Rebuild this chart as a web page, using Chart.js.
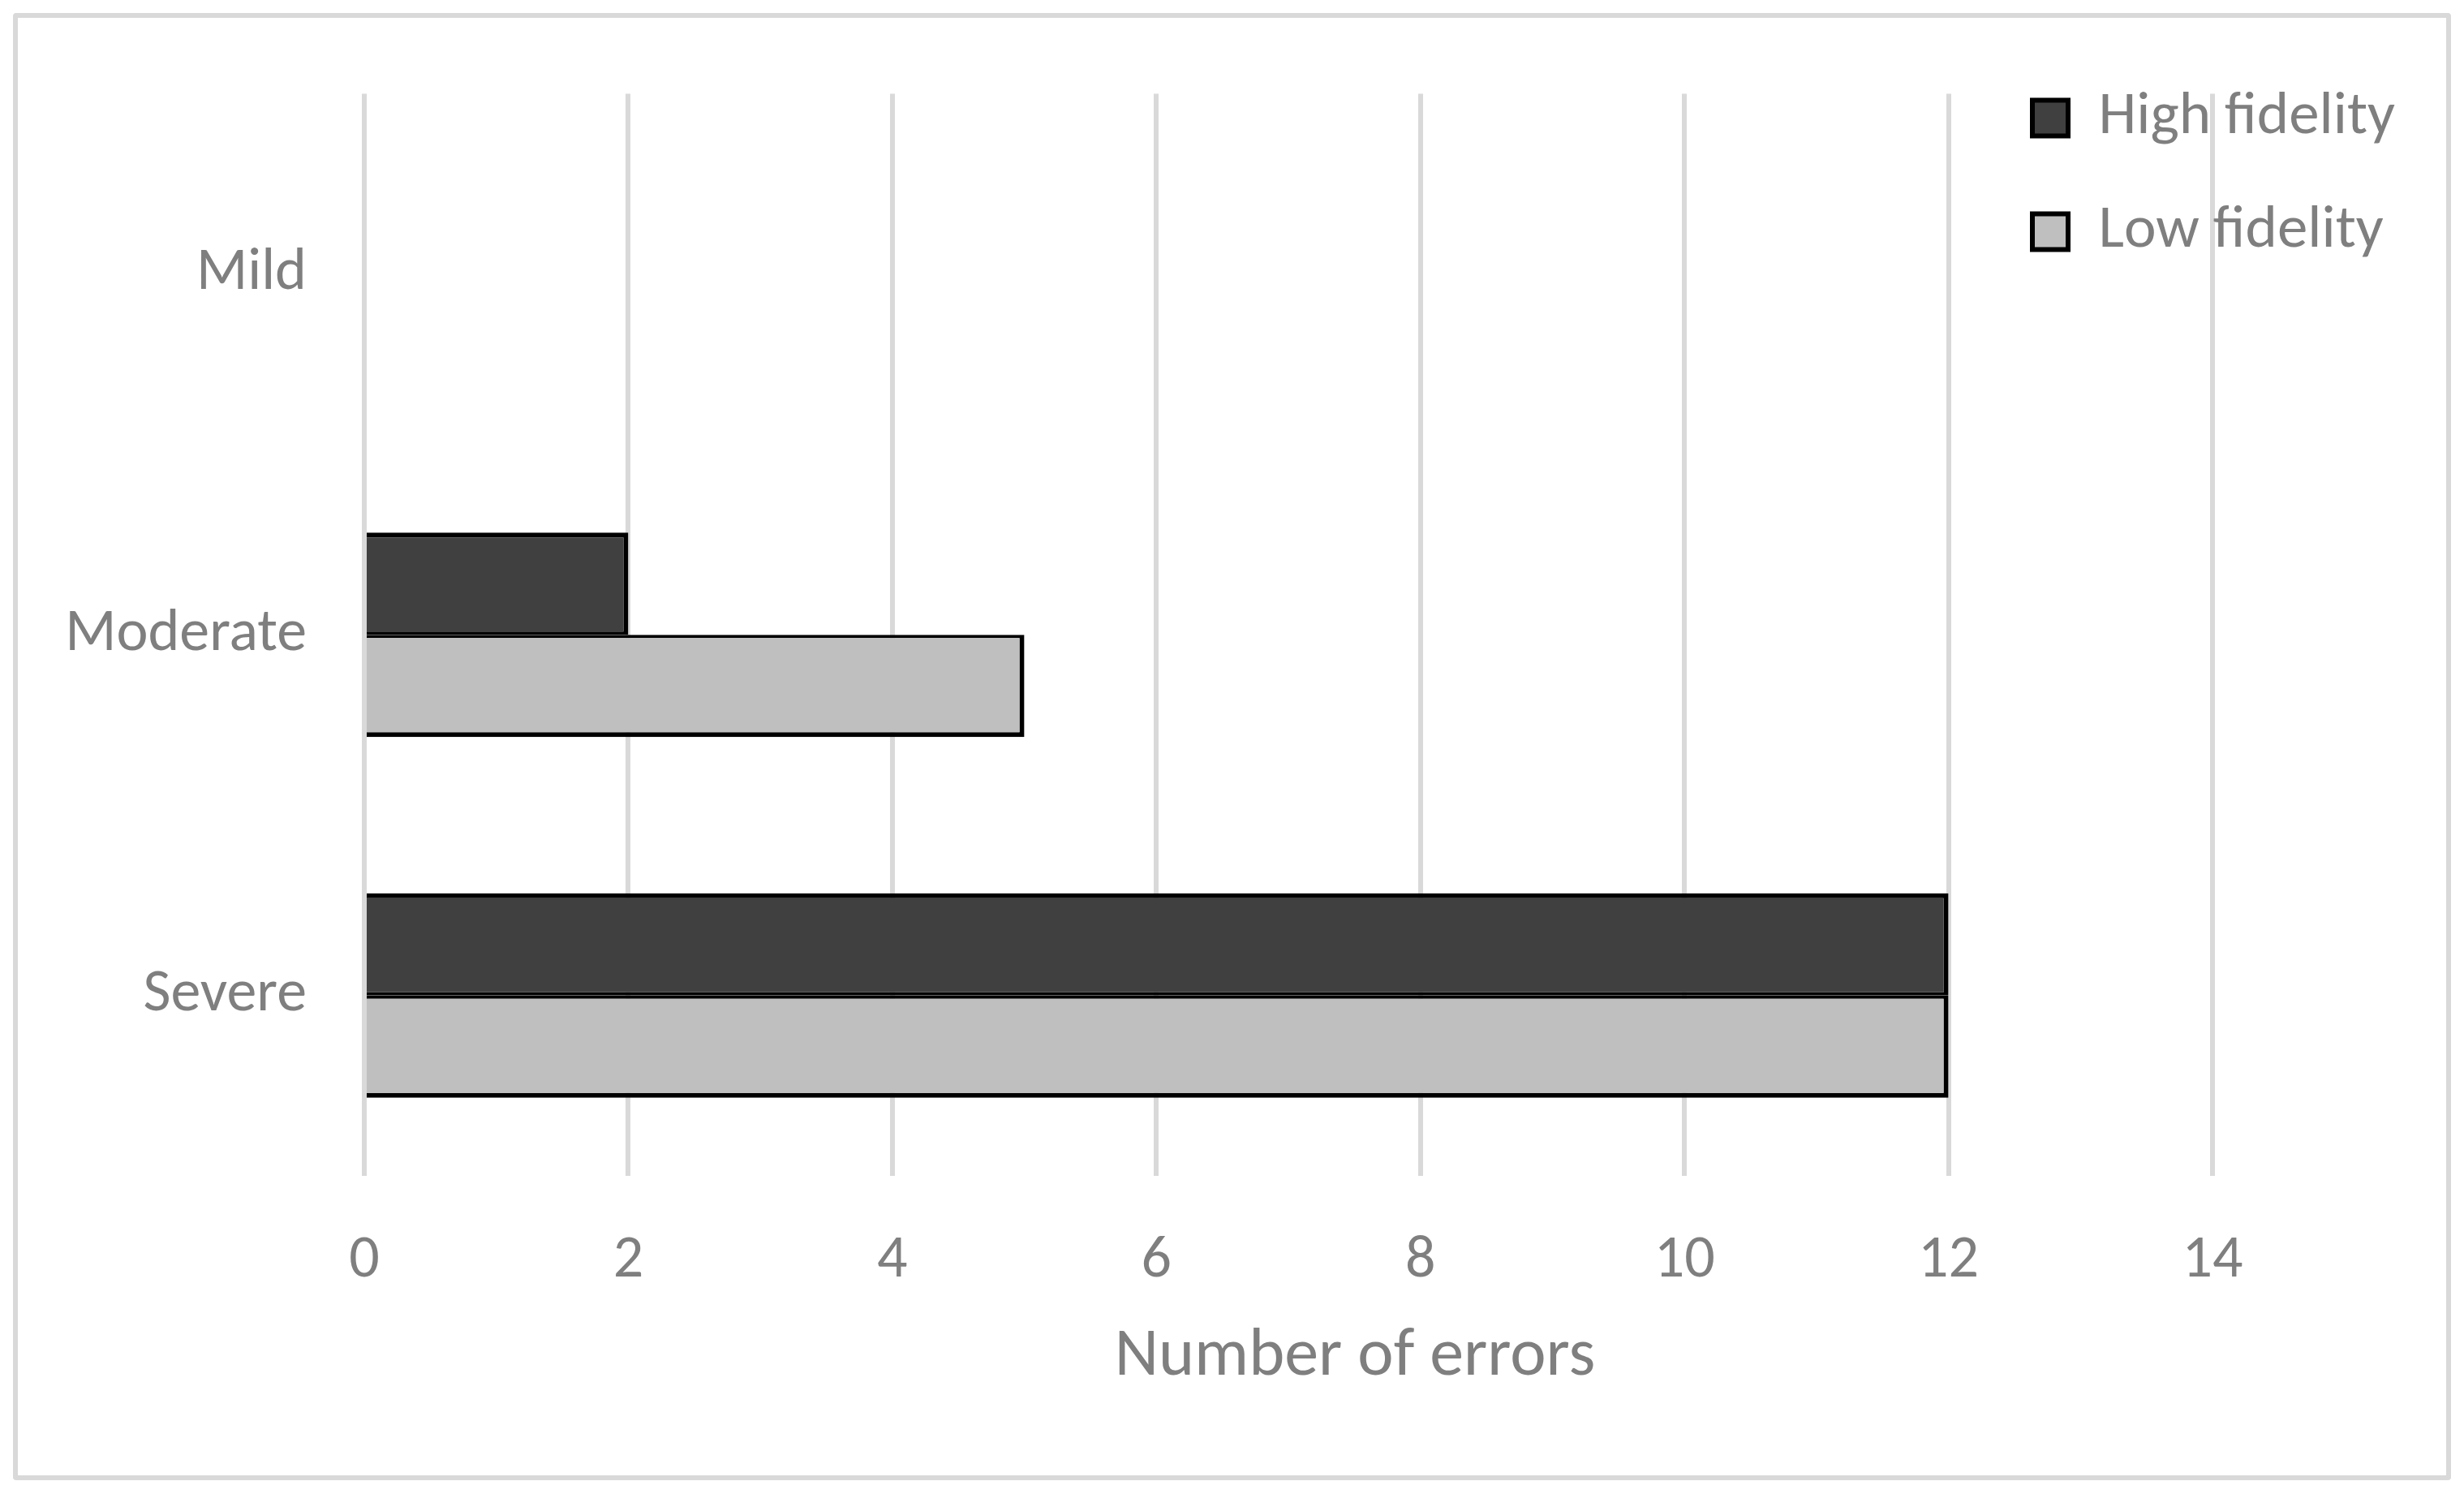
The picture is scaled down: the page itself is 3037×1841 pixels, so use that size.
<!DOCTYPE html>
<html>
<head>
<meta charset="utf-8">
<script src="https://cdn.jsdelivr.net/npm/chart.js@4/dist/chart.umd.min.js"></script>
<style>
  html, body { margin: 0; padding: 0; background: #ffffff; }
  #wrap { position: relative; width: 3037px; height: 1841px; overflow: hidden; }
  #frame { position: absolute; left: 16px; top: 16px; width: 3005px; height: 1808px;
           box-sizing: border-box; border: 6px solid #d9d9d9; border-radius: 4px; pointer-events: none; }
  canvas { position: absolute; left: 0; top: 0; }
</style>
</head>
<body>
<div id="wrap">
  <canvas id="c" width="3037" height="1841"></canvas>
  <div id="frame"></div>
</div>
<script>
// ---- data ----
const categories = ["Mild", "Moderate", "Severe"];
const seriesNames = ["High fidelity", "Low fidelity"];
const highFidelity = [0, 2, 12];
const lowFidelity = [0, 5, 12];
const xTicks = [0, 2, 4, 6, 8, 10, 12, 14];
const xTitle = "Number of errors";

const FONT = "Carlito, Calibri, Lato, 'Open Sans', sans-serif";
const GREY_TEXT = "#7f7f7f";

const layoutTweaks = {
  id: 'layoutTweaks',
  afterLayout(chart) {
    const s = chart.scales.x;
    if (s && !s._titleShifted) {
      const orig = s.drawTitle.bind(s);
      s.drawTitle = function () {
        const l = this.left, r = this.right;
        this.left = l + 82; this.right = r + 82;
        orig();
        this.left = l; this.right = r;
      };
      s._titleShifted = true;
    }
  },
  beforeDraw(chart) {
    const lg = chart.legend;
    if (!lg) return;
    const w = lg.width, h = lg.height;
    lg.left = 2440; lg.right = 2440 + w;
    lg.top = 43; lg.bottom = 43 + h;
  }
};

new Chart(document.getElementById('c'), {
  type: 'bar',
  data: {
    labels: categories,
    datasets: [
      {
        label: seriesNames[0],
        data: highFidelity,
        backgroundColor: '#404040',
        borderColor: '#000000',
        borderWidth: { top: 6, right: 6, bottom: 4, left: 0 },
        borderSkipped: 'left'
      },
      {
        label: seriesNames[1],
        data: lowFidelity,
        backgroundColor: '#bfbfbf',
        borderColor: '#000000',
        borderWidth: { top: 4, right: 6, bottom: 6, left: 0 },
        borderSkipped: 'left'
      }
    ]
  },
  options: {
    indexAxis: 'y',
    responsive: false,
    animation: false,
    devicePixelRatio: 1,
    layout: { padding: { top: 112, right: 310, left: 0, bottom: 0 } },
    datasets: { bar: { categoryPercentage: 0.567, barPercentage: 1.0 } },
    scales: {
      x: {
        type: 'linear',
        min: 0,
        max: 14,
        afterBuildTicks: (scale) => { scale.ticks = xTicks.map(v => ({ value: v })); },
        afterFit: (scale) => { scale.height = 392; },
        grid: { color: '#d9d9d9', lineWidth: 6, drawTicks: false },
        border: { display: false },
        ticks: {
          color: GREY_TEXT,
          font: { family: FONT, size: 74 },
          padding: 61,
          maxRotation: 0
        },
        title: {
          display: true,
          text: xTitle,
          color: GREY_TEXT,
          font: { family: FONT, size: 84 },
          padding: { top: 0, bottom: 118 }
        }
      },
      y: {
        type: 'category',
        afterFit: (scale) => { scale.width = 449; },
        grid: { display: false, drawTicks: false },
        border: { display: false },
        ticks: {
          color: GREY_TEXT,
          font: { family: FONT, size: 74 },
          padding: 71
        }
      }
    },
    plugins: {
      tooltip: { enabled: false },
      legend: {
        position: 'chartArea',
        align: 'start',
        labels: {
          boxWidth: 44,
          boxHeight: 44,
          padding: 65,
          color: GREY_TEXT,
          font: { family: FONT, size: 75 },
          generateLabels: (chart) => {
            const items = Chart.defaults.plugins.legend.labels.generateLabels(chart);
            items.forEach(it => { it.lineWidth = 6; it.strokeStyle = '#000000'; });
            return items;
          }
        }
      }
    }
  },
  plugins: [layoutTweaks]
});
</script>
</body>
</html>
